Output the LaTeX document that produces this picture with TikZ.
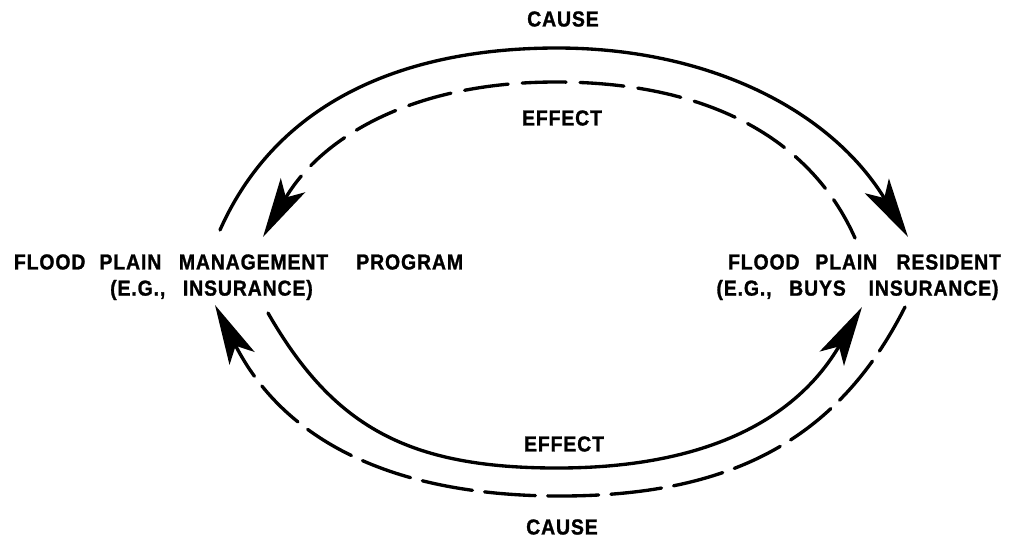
\documentclass[tikz,border=0pt]{standalone}
\usepackage{fontspec}
\setmainfont{Liberation Sans}[LetterSpace=4,FakeStretch=0.9,BoldFeatures={FakeBold=1.2}]
\usetikzlibrary{arrows.meta}
\newcommand{\gap}[1]{\hspace{#1pt}}
\begin{document}
\begin{tikzpicture}[x=0.02cm,y=-0.02cm,
  lbl/.style={font=\fontsize{12.3}{14}\selectfont\bfseries,inner sep=0pt,anchor=center},
  ln/.style={line width=1.9pt,line cap=round},
  dtop/.style={ln,dash pattern=on 25pt off 8pt},
  dbot/.style={ln,dash pattern=on 29pt off 7pt},
  tip/.style={-{Stealth[length=34pt,width=16pt,inset=8pt]}}]
\useasboundingbox (0,0) rectangle (1013,539);
% labels
\node[lbl] (causetop) at (563,19) {CAUSE};
\node[lbl] (effecttop) at (562,118) {EFFECT};
\node[lbl] (effectbot) at (564,444) {EFFECT};
\node[lbl] (causebot) at (562,527) {CAUSE};
\node[lbl] (lprog) at (238.5,262) {FLOOD\gap{8}PLAIN\gap{10}MANAGEMENT\gap{16}PROGRAM};
\node[lbl] (lex) at (211.5,290) {(E.G.,\gap{10}INSURANCE)};
\node[lbl] (rres) at (864.5,262) {FLOOD\gap{9}PLAIN\gap{11}RESIDENT};
\node[lbl] (rex) at (857.5,290) {(E.G.,\gap{10}BUYS\gap{13}INSURANCE)};
% arc end and apex points
\coordinate (a1s) at (220,230);
\coordinate (a1t) at (557,48);
\coordinate (a1e) at (908,237);
\coordinate (a2s) at (855,238);
\coordinate (a2t) at (556,82);
\coordinate (a2e) at (263,237);
\coordinate (a3s) at (268,313);
\coordinate (a3t) at (557,468);
\coordinate (a3e) at (862,307);
\coordinate (a4s) at (905,307);
\coordinate (a4t) at (560,496);
\coordinate (a4e) at (215,305);
% top: cause (solid, outer), program -> resident
\draw[ln,tip] (a1s) .. controls (281,93) and (417,48) .. (a1t)
  .. controls (707,48) and (830,109) .. (a1e);
% top: effect (dashed, inner), resident -> program
\draw[dtop,tip] (a2s) .. controls (810,137) and (706,82) .. (a2t)
  .. controls (406,82) and (318,142) .. (a2e);
% bottom: effect (solid, inner), program -> resident
\draw[ln,tip] (a3s) .. controls (333,426) and (407,468) .. (a3t)
  .. controls (707,468) and (796.5,419) .. (a3e);
% bottom: cause (dashed, outer), resident -> program
\draw[dbot,tip] (a4s) .. controls (837.5,440.5) and (730,496) .. (a4t)
  .. controls (390,496) and (283,439) .. (a4e);
\end{tikzpicture}
\end{document}
